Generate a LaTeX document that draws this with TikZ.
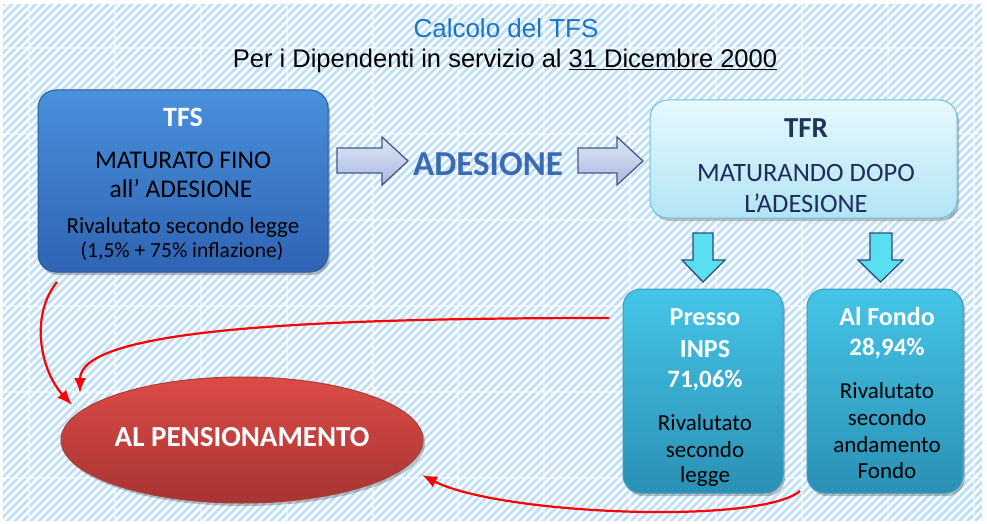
\documentclass[tikz,border=0pt]{standalone}
\usepackage{fontspec}
\setmainfont{Carlito}
\newfontfamily\titlefont{Liberation Sans}
\usetikzlibrary{shapes.geometric,shadows,arrows.meta}
\definecolor{stripec}{HTML}{BCDFF7}
\definecolor{titleblue}{HTML}{1A75C9}
\definecolor{tfsTop}{HTML}{4A90DC}
\definecolor{tfsBot}{HTML}{2E64B3}
\definecolor{tfsEdge}{HTML}{2B5A9C}
\definecolor{tfrTop}{HTML}{E6F9FE}
\definecolor{tfrBot}{HTML}{B3E4F4}
\definecolor{tfrEdge}{HTML}{6CC2DE}
\definecolor{cyTop}{HTML}{45C5E7}
\definecolor{cyBot}{HTML}{2A90B5}
\definecolor{cyEdge}{HTML}{3A9CC0}
\definecolor{elTop}{HTML}{DD4B47}
\definecolor{elBot}{HTML}{A63533}
\definecolor{elEdge}{HTML}{B03A36}
\definecolor{arTop}{HTML}{E0E7F6}
\definecolor{arBot}{HTML}{A9B9E0}
\definecolor{arEdge}{HTML}{3D5B8A}
\definecolor{dnFill}{HTML}{5ADFF0}
\definecolor{dnEdge}{HTML}{2D4A7A}
\definecolor{adeblue}{HTML}{3A6AB4}
\definecolor{tfrText}{HTML}{1F3557}
\definecolor{tfrText2}{HTML}{1E2D5C}
\definecolor{redline}{HTML}{FF0000}
\tikzset{
  softshadow/.style={drop shadow={shadow xshift=2pt,shadow yshift=-3pt,opacity=0.35,fill=black!70}},
  boxbase/.style={rounded corners=18pt, line width=1pt, softshadow},
  tfsbox/.style={boxbase, draw=tfsEdge, top color=tfsTop, bottom color=tfsBot},
  tfrbox/.style={boxbase, draw=tfrEdge, top color=tfrTop, bottom color=tfrBot},
  cybox/.style={boxbase, draw=cyEdge, top color=cyTop, bottom color=cyBot},
  pensshape/.style={ellipse, inner sep=0pt, line width=1pt, draw=elEdge, top color=elTop, bottom color=elBot, softshadow},
  rarrow/.style={line width=1.3pt, draw=arEdge, top color=arTop, bottom color=arBot, line join=miter},
  darrow/.style={line width=1.3pt, draw=dnEdge, fill=dnFill, line join=miter},
  redarr/.style={draw=redline, line width=2.2pt, -{Latex[length=15pt,width=12pt]}},
  txt/.style={anchor=base, inner sep=0pt},
  stripe/.style={draw=stripec, line width=2.8pt},
  gridl/.style={draw=white, line width=1.5pt, opacity=0.5}
}
\newcommand{\fs}[1]{\fontsize{#1}{#1}\selectfont}
\begin{document}
\begin{tikzpicture}[x=1pt,y=-1pt]
\useasboundingbox (0,0) rectangle (987,524);
\fill[white] (0,0) rectangle (987,524);
\begin{scope}
  \clip (3,5) rectangle (982,520);
  \foreach \i in {-540,-532,...,990} \draw[stripe] (\i,524) -- ++(530,-530);
  \foreach \yy in {48,134,220,306,392,478} \draw[gridl] (0,\yy) -- (987,\yy);
  \foreach \xx in {29,115,201,287,373,458,544,630,716,802,888,974} \draw[gridl] (\xx,0) -- (\xx,524);
\end{scope}

% titles
\node[txt, font=\titlefont\fs{26}, text=titleblue] (title) at (506,38) {Calcolo del TFS};
\node[txt, font=\titlefont\fs{25.5}, text=black] (subtitle) at (505,68) {Per i Dipendenti in servizio al \underline{31 Dicembre 2000}};

% TFS box
\node[tfsbox, minimum width=290pt, minimum height=182pt] (tfs) at (183,181) {};
\node[txt, font=\bfseries\fs{28}, text=white] (tfsT) at (183,127) {TFS};
\node[txt, font=\fs{25.5}] (tfsL1) at (183,168) {MATURATO FINO};
\node[txt, font=\fs{25.5}] (tfsL2) at (181,197) {all’ ADESIONE};
\node[txt, font=\fs{23}] (tfsL3) at (183,233) {Rivalutato secondo legge};
\node[txt, font=\fs{21.5}] (tfsL4) at (182,257) {(1,5\% + 75\% inflazione)};

% block arrows + ADESIONE
\draw[rarrow] (337,148) -- (382,148) -- (382,137) -- (408,161) -- (382,185) -- (382,173) -- (337,173) -- cycle;
\node[txt, font=\bfseries\fs{35}, text=adeblue] (ade) at (488,175) {ADESIONE};
\draw[rarrow] (578,148) -- (617,148) -- (617,137) -- (643,161) -- (617,185) -- (617,173) -- (578,173) -- cycle;

% TFR box
\node[tfrbox, minimum width=307pt, minimum height=118pt] (tfr) at (803.5,159) {};
\node[txt, font=\bfseries\fs{29}, text=tfrText] (tfrT) at (806,138) {TFR};
\node[txt, font=\fs{26.5}, text=tfrText2] (tfrL1) at (806,181) {MATURANDO DOPO};
\node[txt, font=\fs{26.5}, text=tfrText2] (tfrL2) at (806,212) {L’ADESIONE};

% down arrows
\draw[darrow] (693,233) -- (713,233) -- (713,260) -- (725,260) -- (703,282) -- (682,260) -- (693,260) -- cycle;
\draw[darrow] (870,233) -- (892,233) -- (892,260) -- (903,260) -- (880.5,282) -- (858,260) -- (870,260) -- cycle;

% Presso INPS box
\node[cybox, minimum width=160pt, minimum height=204pt] (inps) at (703,391) {};
\node[txt, font=\bfseries\fs{26}, text=white] (inpsT1) at (705,325) {Presso};
\node[txt, font=\bfseries\fs{26}, text=white] (inpsT2) at (705,357) {INPS};
\node[txt, font=\bfseries\fs{25}, text=white] (inpsT3) at (705,387) {71,06\%};
\node[txt, font=\fs{23}] (inpsL1) at (705,430) {Rivalutato};
\node[txt, font=\fs{23}] (inpsL2) at (705,457) {secondo};
\node[txt, font=\fs{23}] (inpsL3) at (705,482) {legge};

% Al Fondo box
\node[cybox, minimum width=156pt, minimum height=204pt] (fondo) at (885,391) {};
\node[txt, font=\bfseries\fs{26}, text=white] (fondoT1) at (887,325) {Al Fondo};
\node[txt, font=\bfseries\fs{25}, text=white] (fondoT2) at (887,355) {28,94\%};
\node[txt, font=\fs{23}] (fondoL1) at (887,398) {Rivalutato};
\node[txt, font=\fs{23}] (fondoL2) at (887,425) {secondo};
\node[txt, font=\fs{23}] (fondoL3) at (887,452) {andamento};
\node[txt, font=\fs{23}] (fondoL4) at (887,478) {Fondo};

% ellipse
\node[pensshape, minimum width=362pt, minimum height=126pt] (pens) at (242,440) {};
\node[txt, font=\bfseries\fs{29}, text=white] (pensT) at (242,446) {AL PENSIONAMENTO};

% red connectors
\coordinate (s1) at ([shift={(-126,101)}]tfs.center);
\coordinate (s2) at ([shift={(-94,-73)}]inps.center);
\coordinate (s3) at ([shift={(-85,100)}]fondo.center);
\coordinate (t1) at ([shift={(-170,-35)}]pens.center);
\coordinate (t2) at ([shift={(-162,-47)}]pens.center);
\coordinate (t3) at ([shift={(180,35)}]pens.center);
\draw[redarr] (s1) .. controls (30,315) and (40,370) .. (t1);
\draw[redarr] (s2) .. controls (300,318) and (80,330) .. (t2);
\draw[redarr] (s3) .. controls (760,525) and (500,515) .. (t3);
\end{tikzpicture}
\end{document}
